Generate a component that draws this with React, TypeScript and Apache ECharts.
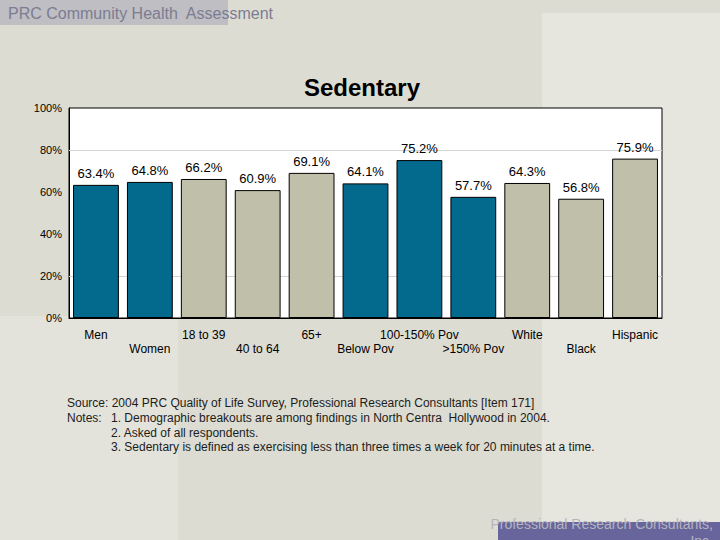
import React, { useEffect, useRef } from "react";
import * as echarts from "echarts";

const categories = ["Men", "Women", "18 to 39", "40 to 64", "65+", "Below Pov", "100-150% Pov", ">150% Pov", "White", "Black", "Hispanic"];
const values = [63.4, 64.8, 66.2, 60.9, 69.1, 64.1, 75.2, 57.7, 64.3, 56.8, 75.9];
const groups = ["blue", "blue", "tan", "tan", "tan", "blue", "blue", "blue", "tan", "tan", "tan"];
const gridLineValues = [20, 80];
const noteLines = [
  "Source: 2004 PRC Quality of Life Survey, Professional Research Consultants [Item 171]",
  "Notes:",
  "1. Demographic breakouts are among findings in North Centra  Hollywood in 2004.",
  "2. Asked of all respondents.",
  "3. Sedentary is defined as exercising less than three times a week for 20 minutes at a time.",
];

const COLORS: Record<string, string> = { blue: "#036a8e", tan: "#c0c0aa" };
const FONT = "Arial, 'Liberation Sans', Helvetica, sans-serif";

export default function App() {
  const ref = useRef<HTMLDivElement>(null);
  useEffect(() => {
    if (!ref.current) return;
    const chart = echarts.init(ref.current, null, { renderer: "svg" });
    const noteStyle = { fontSize: 12, fontFamily: FONT, fill: "#1c1c1c" };
    chart.setOption({
      animation: false,
      backgroundColor: "#dcdcd2",
      graphic: [
        { type: "rect", z: -10, shape: { x: 542, y: 13, width: 178, height: 527 }, style: { fill: "#e6e6df" } },
        { type: "rect", z: -10, shape: { x: 0, y: 316, width: 178, height: 224 }, style: { fill: "#e3e3db" } },
        { type: "rect", z: -9, shape: { x: 0, y: 0, width: 228, height: 25 }, style: { fill: "#bebec3" } },
        { type: "text", z: 10, x: 8, y: 13, style: { text: "PRC Community Health  Assessment", fontSize: 16, fontFamily: FONT, fill: "#7c7c92", verticalAlign: "middle" } },
        { type: "text", z: 10, x: 362, y: 87, style: { text: "Sedentary", fontSize: 24, fontWeight: "bold", fontFamily: FONT, fill: "#000", align: "center", verticalAlign: "middle" } },
        { type: "text", z: 10, x: 67, y: 403, style: { ...noteStyle, text: noteLines[0], verticalAlign: "middle" } },
        { type: "text", z: 10, x: 67, y: 418, style: { ...noteStyle, text: noteLines[1], verticalAlign: "middle" } },
        { type: "text", z: 10, x: 111, y: 418, style: { ...noteStyle, text: noteLines[2], verticalAlign: "middle" } },
        { type: "text", z: 10, x: 111, y: 433, style: { ...noteStyle, text: noteLines[3], verticalAlign: "middle" } },
        { type: "text", z: 10, x: 111, y: 447, style: { ...noteStyle, text: noteLines[4], verticalAlign: "middle" } },
        { type: "rect", z: -9, shape: { x: 498, y: 522, width: 222, height: 18 }, style: { fill: "#67659b" } },
        { type: "text", z: 10, x: 713, y: 532, style: { text: "Professional Research Consultants,\nInc.", fontSize: 14, lineHeight: 17, fontFamily: FONT, fill: "#b4b4bf", align: "right", verticalAlign: "middle" } },
      ],
      grid: {
        left: 69, top: 108, width: 593, height: 210,
        show: true, backgroundColor: "#ffffff", borderColor: "#000", borderWidth: 1,
        containLabel: false,
      },
      xAxis: {
        type: "category",
        data: categories,
        axisLine: { show: true, lineStyle: { color: "#000", width: 1 } },
        axisTick: { show: false },
        axisLabel: {
          interval: 0,
          margin: 10,
          fontSize: 12,
          lineHeight: 14,
          fontFamily: FONT,
          color: "#000",
          formatter: (v: string, i: number) => (i % 2 === 1 ? "\n" + v : v),
        },
      },
      yAxis: {
        type: "value",
        min: 0, max: 100, interval: 20,
        axisLine: { show: true, lineStyle: { color: "#000", width: 1 } },
        axisTick: { show: false },
        splitLine: { show: false },
        axisLabel: { formatter: "{value}%", fontSize: 11, fontFamily: FONT, color: "#000", margin: 7 },
      },
      series: [
        {
          type: "bar",
          barCategoryGap: "15%",
          data: values.map((v, i) => ({ value: v, itemStyle: { color: COLORS[groups[i]] } })),
          itemStyle: { borderColor: "#000", borderWidth: 1 },
          label: {
            show: true, position: "top", distance: 5,
            fontSize: 13, fontFamily: FONT, color: "#000",
            formatter: (p: any) => p.value.toFixed(1) + "%",
          },
          markLine: {
            silent: true, z: 1, symbol: "none",
            label: { show: false },
            lineStyle: { color: "#d4d4d4", type: "solid", width: 1 },
            data: gridLineValues.map((v) => ({ yAxis: v })),
          },
        },
      ],
    });
    return () => chart.dispose();
  }, []);
  return <div ref={ref} style={{ position: "absolute", left: 0, top: 0, width: 720, height: 540 }} />;
}
